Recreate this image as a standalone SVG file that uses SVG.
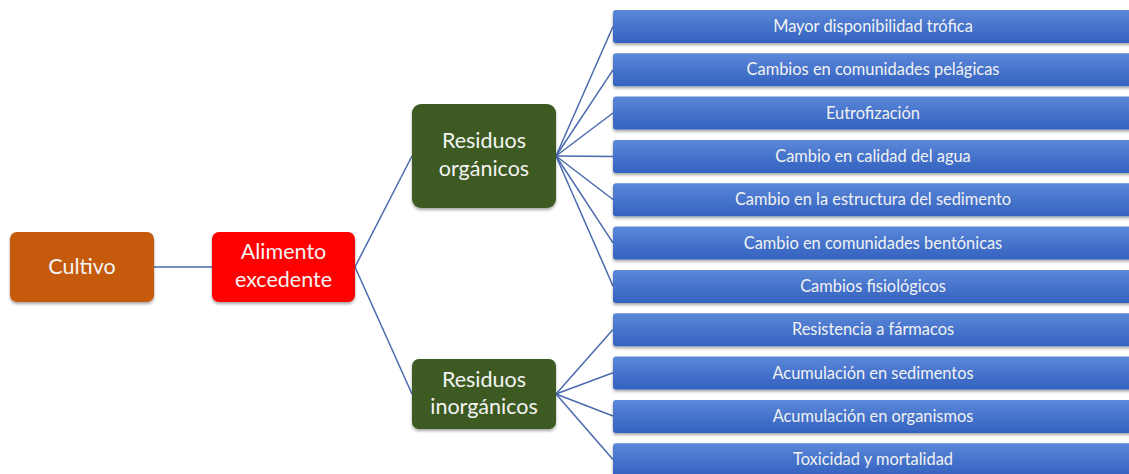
<svg xmlns="http://www.w3.org/2000/svg" width="1129" height="474" viewBox="0 0 1129 474">
<defs>
<linearGradient id="blueGrad" x1="0" y1="0" x2="0" y2="1">
<stop offset="0" stop-color="#5C88D8"/>
<stop offset="0.5" stop-color="#4674CC"/>
<stop offset="1" stop-color="#3462BF"/>
</linearGradient>
<filter id="shadow" x="-10%" y="-20%" width="120%" height="150%">
<feDropShadow dx="0" dy="2" stdDeviation="1.6" flood-color="#000" flood-opacity="0.35"/>
</filter>
</defs>
<style>
.big { font-family: Lato, "Liberation Sans", sans-serif; font-size: 21.5px; fill: #F4F4F4; text-anchor: middle; }
.small { font-family: Lato, "Liberation Sans", sans-serif; font-size: 16.4px; fill: #F2F2F2; text-anchor: middle; }
.conn { stroke: #4A6AAE; stroke-width: 1.5; fill: none; }
.leaf rect { fill: url(#blueGrad); filter: url(#shadow); }
</style>
<rect width="1129" height="474" fill="#FFFFFF"/>

<g id="connectors">
<line class="conn" x1="154" y1="267" x2="212" y2="267"/>
<line class="conn" x1="355" y1="267" x2="412" y2="156"/>
<line class="conn" x1="355" y1="267" x2="412" y2="394"/>
<line class="conn" x1="556" y1="156" x2="613" y2="26.5"/>
<line class="conn" x1="556" y1="156" x2="613" y2="69.8"/>
<line class="conn" x1="556" y1="156" x2="613" y2="113"/>
<line class="conn" x1="556" y1="156" x2="613" y2="156.5"/>
<line class="conn" x1="556" y1="156" x2="613" y2="199.5"/>
<line class="conn" x1="556" y1="156" x2="613" y2="242.8"/>
<line class="conn" x1="556" y1="156" x2="613" y2="286"/>
<line class="conn" x1="556" y1="394" x2="613" y2="329.5"/>
<line class="conn" x1="556" y1="394" x2="613" y2="372.8"/>
<line class="conn" x1="556" y1="394" x2="613" y2="416"/>
<line class="conn" x1="556" y1="394" x2="613" y2="459.5"/>
</g>

<g id="cultivo">
<rect x="10" y="232" width="144" height="70" rx="7" fill="#C55A11" filter="url(#shadow)"/>
<text class="big" x="82" y="274">Cultivo</text>
</g>

<g id="alimento">
<rect x="212" y="232" width="143" height="70" rx="7" fill="#FF0000" filter="url(#shadow)"/>
<text class="big" x="283.5" y="259">Alimento</text>
<text class="big" x="283.5" y="287">excedente</text>
</g>

<g id="organicos">
<rect x="412" y="104" width="144" height="104" rx="9" fill="#3C5A22" filter="url(#shadow)"/>
<text class="big" x="484" y="148">Residuos</text>
<text class="big" x="484" y="176">orgánicos</text>
</g>

<g id="inorganicos">
<rect x="412" y="359" width="144" height="70" rx="7" fill="#3C5A22" filter="url(#shadow)"/>
<text class="big" x="484" y="387">Residuos</text>
<text class="big" x="484" y="414">inorgánicos</text>
</g>

<g id="leaf1" class="leaf"><rect x="613" y="10" width="522" height="33" rx="3"/><text class="small" x="873" y="32">Mayor disponibilidad trófica</text></g>
<g id="leaf2" class="leaf"><rect x="613" y="53.3" width="522" height="33" rx="3"/><text class="small" x="873" y="75.3">Cambios en comunidades pelágicas</text></g>
<g id="leaf3" class="leaf"><rect x="613" y="96.6" width="522" height="33" rx="3"/><text class="small" x="873" y="118.6">Eutrofización</text></g>
<g id="leaf4" class="leaf"><rect x="613" y="140" width="522" height="33" rx="3"/><text class="small" x="873" y="162">Cambio en calidad del agua</text></g>
<g id="leaf5" class="leaf"><rect x="613" y="183.3" width="522" height="33" rx="3"/><text class="small" x="873" y="205.3">Cambio en la estructura del sedimento</text></g>
<g id="leaf6" class="leaf"><rect x="613" y="226.6" width="522" height="33" rx="3"/><text class="small" x="873" y="248.6">Cambio en comunidades bentónicas</text></g>
<g id="leaf7" class="leaf"><rect x="613" y="270" width="522" height="33" rx="3"/><text class="small" x="873" y="292">Cambios fisiológicos</text></g>
<g id="leaf8" class="leaf"><rect x="613" y="313.3" width="522" height="33" rx="3"/><text class="small" x="873" y="335.3">Resistencia a fármacos</text></g>
<g id="leaf9" class="leaf"><rect x="613" y="356.6" width="522" height="33" rx="3"/><text class="small" x="873" y="378.6">Acumulación en sedimentos</text></g>
<g id="leaf10" class="leaf"><rect x="613" y="400" width="522" height="33" rx="3"/><text class="small" x="873" y="422">Acumulación en organismos</text></g>
<g id="leaf11" class="leaf"><rect x="613" y="443.3" width="522" height="33" rx="3"/><text class="small" x="873" y="465.3">Toxicidad y mortalidad</text></g>
</svg>
